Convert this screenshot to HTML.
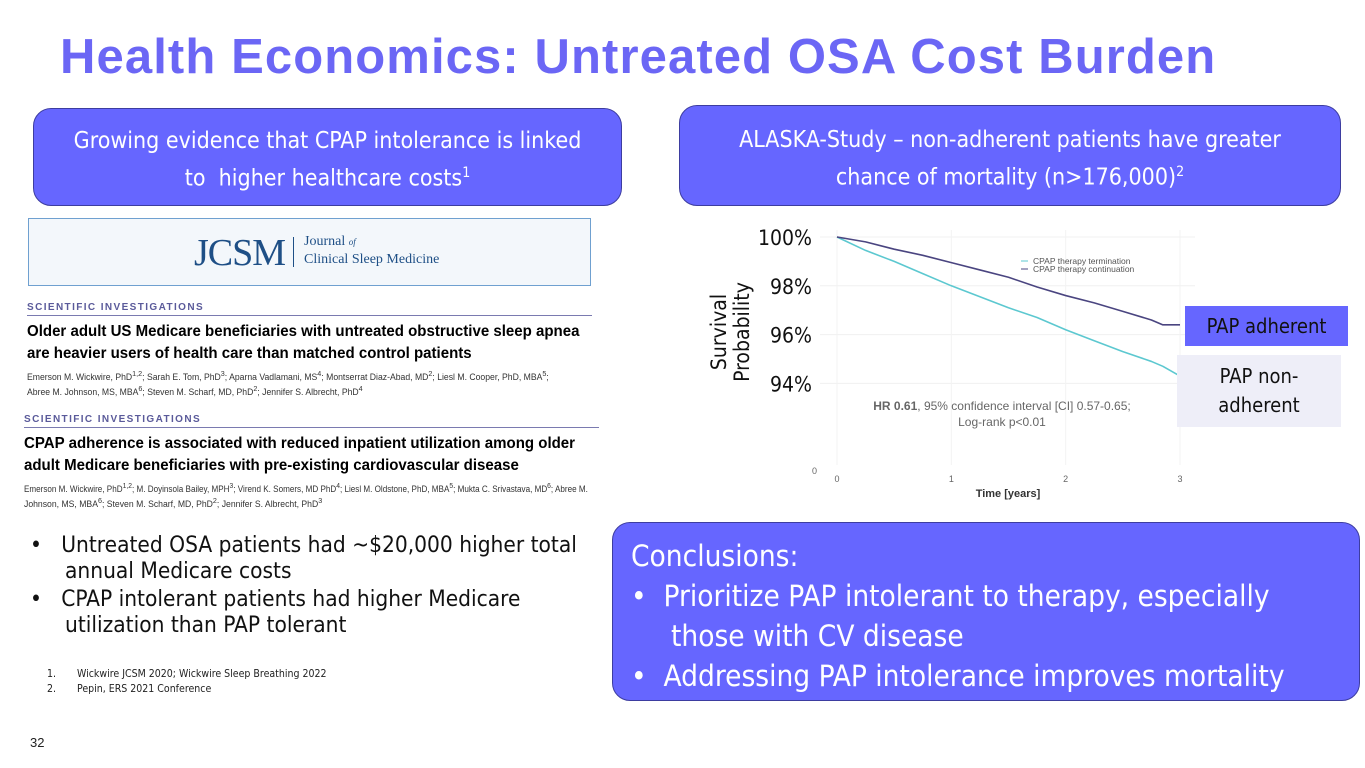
<!DOCTYPE html>
<html><head><meta charset="utf-8"><style>
body{margin:0;width:1365px;height:768px;background:#fff;position:relative;overflow:hidden;font-family:"Liberation Sans",sans-serif}
.abs{position:absolute}
.box{position:absolute;background:#6666ff;border:1.5px solid #3d3da0;border-radius:18px;color:#fff;font-family:"DejaVu Sans Condensed","Liberation Sans",sans-serif;text-align:center;box-sizing:border-box}
.cal{font-family:"DejaVu Sans Condensed","Liberation Sans",sans-serif}
.nw{white-space:nowrap;transform-origin:left;display:block}
</style></head><body>
<div class="abs" style="left:60px;top:29px;font-size:49px;font-weight:bold;color:#6b66f5;letter-spacing:1.1px;white-space:nowrap">Health Economics: Untreated OSA Cost Burden</div>

<div class="box" style="left:33px;top:108px;width:589px;height:98px;font-size:23px;line-height:32px;padding-top:16px">Growing evidence that CPAP intolerance is linked<br>to&nbsp; higher healthcare costs<sup style="font-size:14px">1</sup></div>
<div class="box" style="left:679px;top:105px;width:662px;height:101px;font-size:23px;line-height:32px;padding-top:18px">ALASKA-Study – non-adherent patients have greater<br>chance of mortality (n&gt;176,000)<sup style="font-size:14px">2</sup></div>

<div class="abs" style="left:28px;top:218px;width:563px;height:68px;background:#f3f7fb;border:1.5px solid #6fa0d0;box-sizing:border-box">
 <div class="abs" style="left:165px;top:12px;font-family:'Liberation Serif',serif;font-size:38px;color:#1e4f86;letter-spacing:-1px">JCSM</div>
 <div class="abs" style="left:264px;top:18px;width:1px;height:30px;background:#1e4f86"></div>
 <div class="abs" style="left:275px;top:14px;font-family:'Liberation Serif',serif;font-size:14px;color:#1e4f86;line-height:17px">Journal <i style="font-size:9px">of</i><br>Clinical Sleep Medicine</div>
</div>
<div class="abs" style="left:27px;top:302px;width:565px">
 <div style="font-size:10px;font-weight:bold;color:#5a5a9a;letter-spacing:1.4px">SCIENTIFIC INVESTIGATIONS</div>
 <div style="height:1px;background:#7a7ab0;margin:2px 0 5px"></div>
 <div style="font-size:16px;font-weight:bold;line-height:22px">
  <span class="nw" style="transform:scaleX(0.94)">Older adult US Medicare beneficiaries with untreated obstructive sleep apnea</span>
  <span class="nw" style="transform:scaleX(0.94)">are heavier users of health care than matched control patients</span></div>
 <div style="font-size:9px;line-height:12px;color:#333;margin-top:3px">
  <span class="nw" style="transform:scaleX(0.96)">Emerson M. Wickwire, PhD<sup>1,2</sup>; Sarah E. Tom, PhD<sup>3</sup>; Aparna Vadlamani, MS<sup>4</sup>; Montserrat Diaz-Abad, MD<sup>2</sup>; Liesl M. Cooper, PhD, MBA<sup>5</sup>;</span>
  <span class="nw" style="transform:scaleX(0.96)">Abree M. Johnson, MS, MBA<sup>6</sup>; Steven M. Scharf, MD, PhD<sup>2</sup>; Jennifer S. Albrecht, PhD<sup>4</sup></span></div>
</div>
<div class="abs" style="left:24px;top:414px;width:575px">
 <div style="font-size:10px;font-weight:bold;color:#5a5a9a;letter-spacing:1.4px">SCIENTIFIC INVESTIGATIONS</div>
 <div style="height:1px;background:#7a7ab0;margin:2px 0 5px"></div>
 <div style="font-size:16px;font-weight:bold;line-height:22px">
  <span class="nw" style="transform:scaleX(0.94)">CPAP adherence is associated with reduced inpatient utilization among older</span>
  <span class="nw" style="transform:scaleX(0.94)">adult Medicare beneficiaries with pre-existing cardiovascular disease</span></div>
 <div style="font-size:9px;line-height:12px;color:#333;margin-top:3px">
  <span class="nw" style="transform:scaleX(0.9)">Emerson M. Wickwire, PhD<sup>1,2</sup>; M. Doyinsola Bailey, MPH<sup>3</sup>; Virend K. Somers, MD PhD<sup>4</sup>; Liesl M. Oldstone, PhD, MBA<sup>5</sup>; Mukta C. Srivastava, MD<sup>6</sup>; Abree M.</span>
  <span class="nw" style="transform:scaleX(0.96)">Johnson, MS, MBA<sup>6</sup>; Steven M. Scharf, MD, PhD<sup>2</sup>; Jennifer S. Albrecht, PhD<sup>3</sup></span></div>
</div>

<div class="abs cal" style="left:30px;top:532px;width:620px;font-size:22.5px;line-height:26px;color:#111">
 <div style="padding-left:35px;text-indent:-35px;white-space:nowrap">•&nbsp;&nbsp;&nbsp;Untreated OSA patients had ~$20,000 higher total<br>annual Medicare costs</div>
 <div style="padding-left:35px;text-indent:-35px;margin-top:2px;white-space:nowrap">•&nbsp;&nbsp;&nbsp;CPAP intolerant patients had higher Medicare<br>utilization than PAP tolerant</div>
</div>
<div class="abs cal" style="left:47px;top:667px;font-size:10.5px;line-height:15px;color:#222">1.&nbsp;&nbsp;&nbsp;&nbsp;&nbsp;&nbsp;&nbsp;Wickwire JCSM 2020; Wickwire Sleep Breathing 2022<br>2.&nbsp;&nbsp;&nbsp;&nbsp;&nbsp;&nbsp;&nbsp;Pepin, ERS 2021 Conference</div>
<div class="abs" style="left:30px;top:735px;font-size:13px;color:#222">32</div>

<svg class="abs" style="left:0;top:0" width="1365" height="768" id="chart"></svg>

<div class="box" style="left:612px;top:522px;width:748px;height:179px;text-align:left;font-size:29.5px;line-height:40px;padding:13px 0 0 18px;white-space:nowrap">
 Conclusions:<br>
 <div style="padding-left:40px;text-indent:-40px">•&nbsp;&nbsp;Prioritize PAP intolerant to therapy, especially<br>those with CV disease</div>
 <div style="padding-left:40px;text-indent:-40px">•&nbsp;&nbsp;Addressing PAP intolerance improves mortality</div>
</div>

<script>
const timeYears=[0,0.25,0.5,0.75,1,1.25,1.5,1.75,2,2.25,2.5,2.75,2.85,3];
const continuation=[100,99.8,99.5,99.25,98.95,98.65,98.35,97.95,97.6,97.3,96.95,96.6,96.4,96.4];
const termination=[100,99.45,99.0,98.5,98.0,97.55,97.1,96.7,96.2,95.75,95.3,94.9,94.7,94.3];
const yTicks=[100,98,96,94];
const yTickLabels=["100%","98%","96%","94%"];
const xTicks=[0,1,2,3];
const svg=document.getElementById('chart');
const NS='http://www.w3.org/2000/svg';
const X=t=>837+t*(1180-837)/3;
const Y=v=>237+(100-v)*24.4;
function mk(tag,attrs,parent){const e=document.createElementNS(NS,tag);for(const k in attrs)e.setAttribute(k,attrs[k]);(parent||svg).appendChild(e);return e;}
for(let i=0;i<yTicks.length;i++){
 const g=mk('line',{x1:820,x2:1195,y1:Y(yTicks[i]),y2:Y(yTicks[i]),stroke:'#f0f0f0','stroke-width':1});
 
 
 const t=mk('text',{x:812,y:Y(yTicks[i])+8,'text-anchor':'end','font-size':21,'font-family':'DejaVu Sans Condensed, Liberation Sans, sans-serif',fill:'#111'});
 t.textContent=yTickLabels[i];
 
 
}
for(const x of xTicks){
 const t=mk('text',{x:X(x),y:482,'text-anchor':'middle','font-size':9,fill:'#666'});
 t.textContent=x;
 
 
 const g=mk('line',{x1:X(x),x2:X(x),y1:230,y2:465,stroke:'#f3f3f3'});
 
 
}
const z=mk('text',{x:812,y:474,'font-size':9,fill:'#666'});z.textContent='0';


const xt=mk('text',{x:1008,y:497,'text-anchor':'middle','font-size':11,'font-weight':'bold',fill:'#333'});xt.textContent='Time [years]';


const yt=mk('text',{transform:'translate(728,332) rotate(-90)','text-anchor':'middle','font-size':21,'font-family':'DejaVu Sans Condensed, Liberation Sans, sans-serif',fill:'#111'});
yt.innerHTML='<tspan x="0" dy="-2">Survival</tspan><tspan x="0" dy="23">Probability</tspan>';


function line(vals,color,name){
 const p=mk('polyline',{points:vals.map((v,i)=>X(timeYears[i])+','+Y(v)).join(' '),fill:'none',stroke:color,'stroke-width':1.6,'stroke-linejoin':'round'});
 
 
}
line(termination,'#5cc8d0','termination-line');
line(continuation,'#4a4580','continuation-line');
const lg=[['CPAP therapy termination','#5cc8d0'],['CPAP therapy continuation','#4a4580']];
lg.forEach((l,i)=>{
 const ln=mk('line',{x1:1021,x2:1028,y1:261+i*8,y2:261+i*8,stroke:l[1]});
 
 
 const t=mk('text',{x:1033,y:264+i*8,'font-size':8.5,fill:'#555'});t.textContent=l[0];
 
 
});
const hr=mk('text',{x:1002,y:410,'text-anchor':'middle','font-size':12,fill:'#666'});
hr.innerHTML='<tspan font-weight="bold">HR 0.61</tspan>, 95% confidence interval [CI] 0.57-0.65;';


const lr=mk('text',{x:1002,y:426,'text-anchor':'middle','font-size':12,fill:'#666'});lr.textContent='Log-rank p<0.01';


</script>

<div class="abs cal" style="left:1185px;top:306px;width:163px;height:40px;background:#6666ff;color:#111;font-size:20px;line-height:40px;text-align:center">PAP adherent</div>
<div class="abs cal" style="left:1177px;top:355px;width:164px;height:72px;background:#eeeef8;color:#111;font-size:20px;line-height:29px;text-align:center;padding-top:7px;box-sizing:border-box">PAP non-<br>adherent</div>
</body></html>
